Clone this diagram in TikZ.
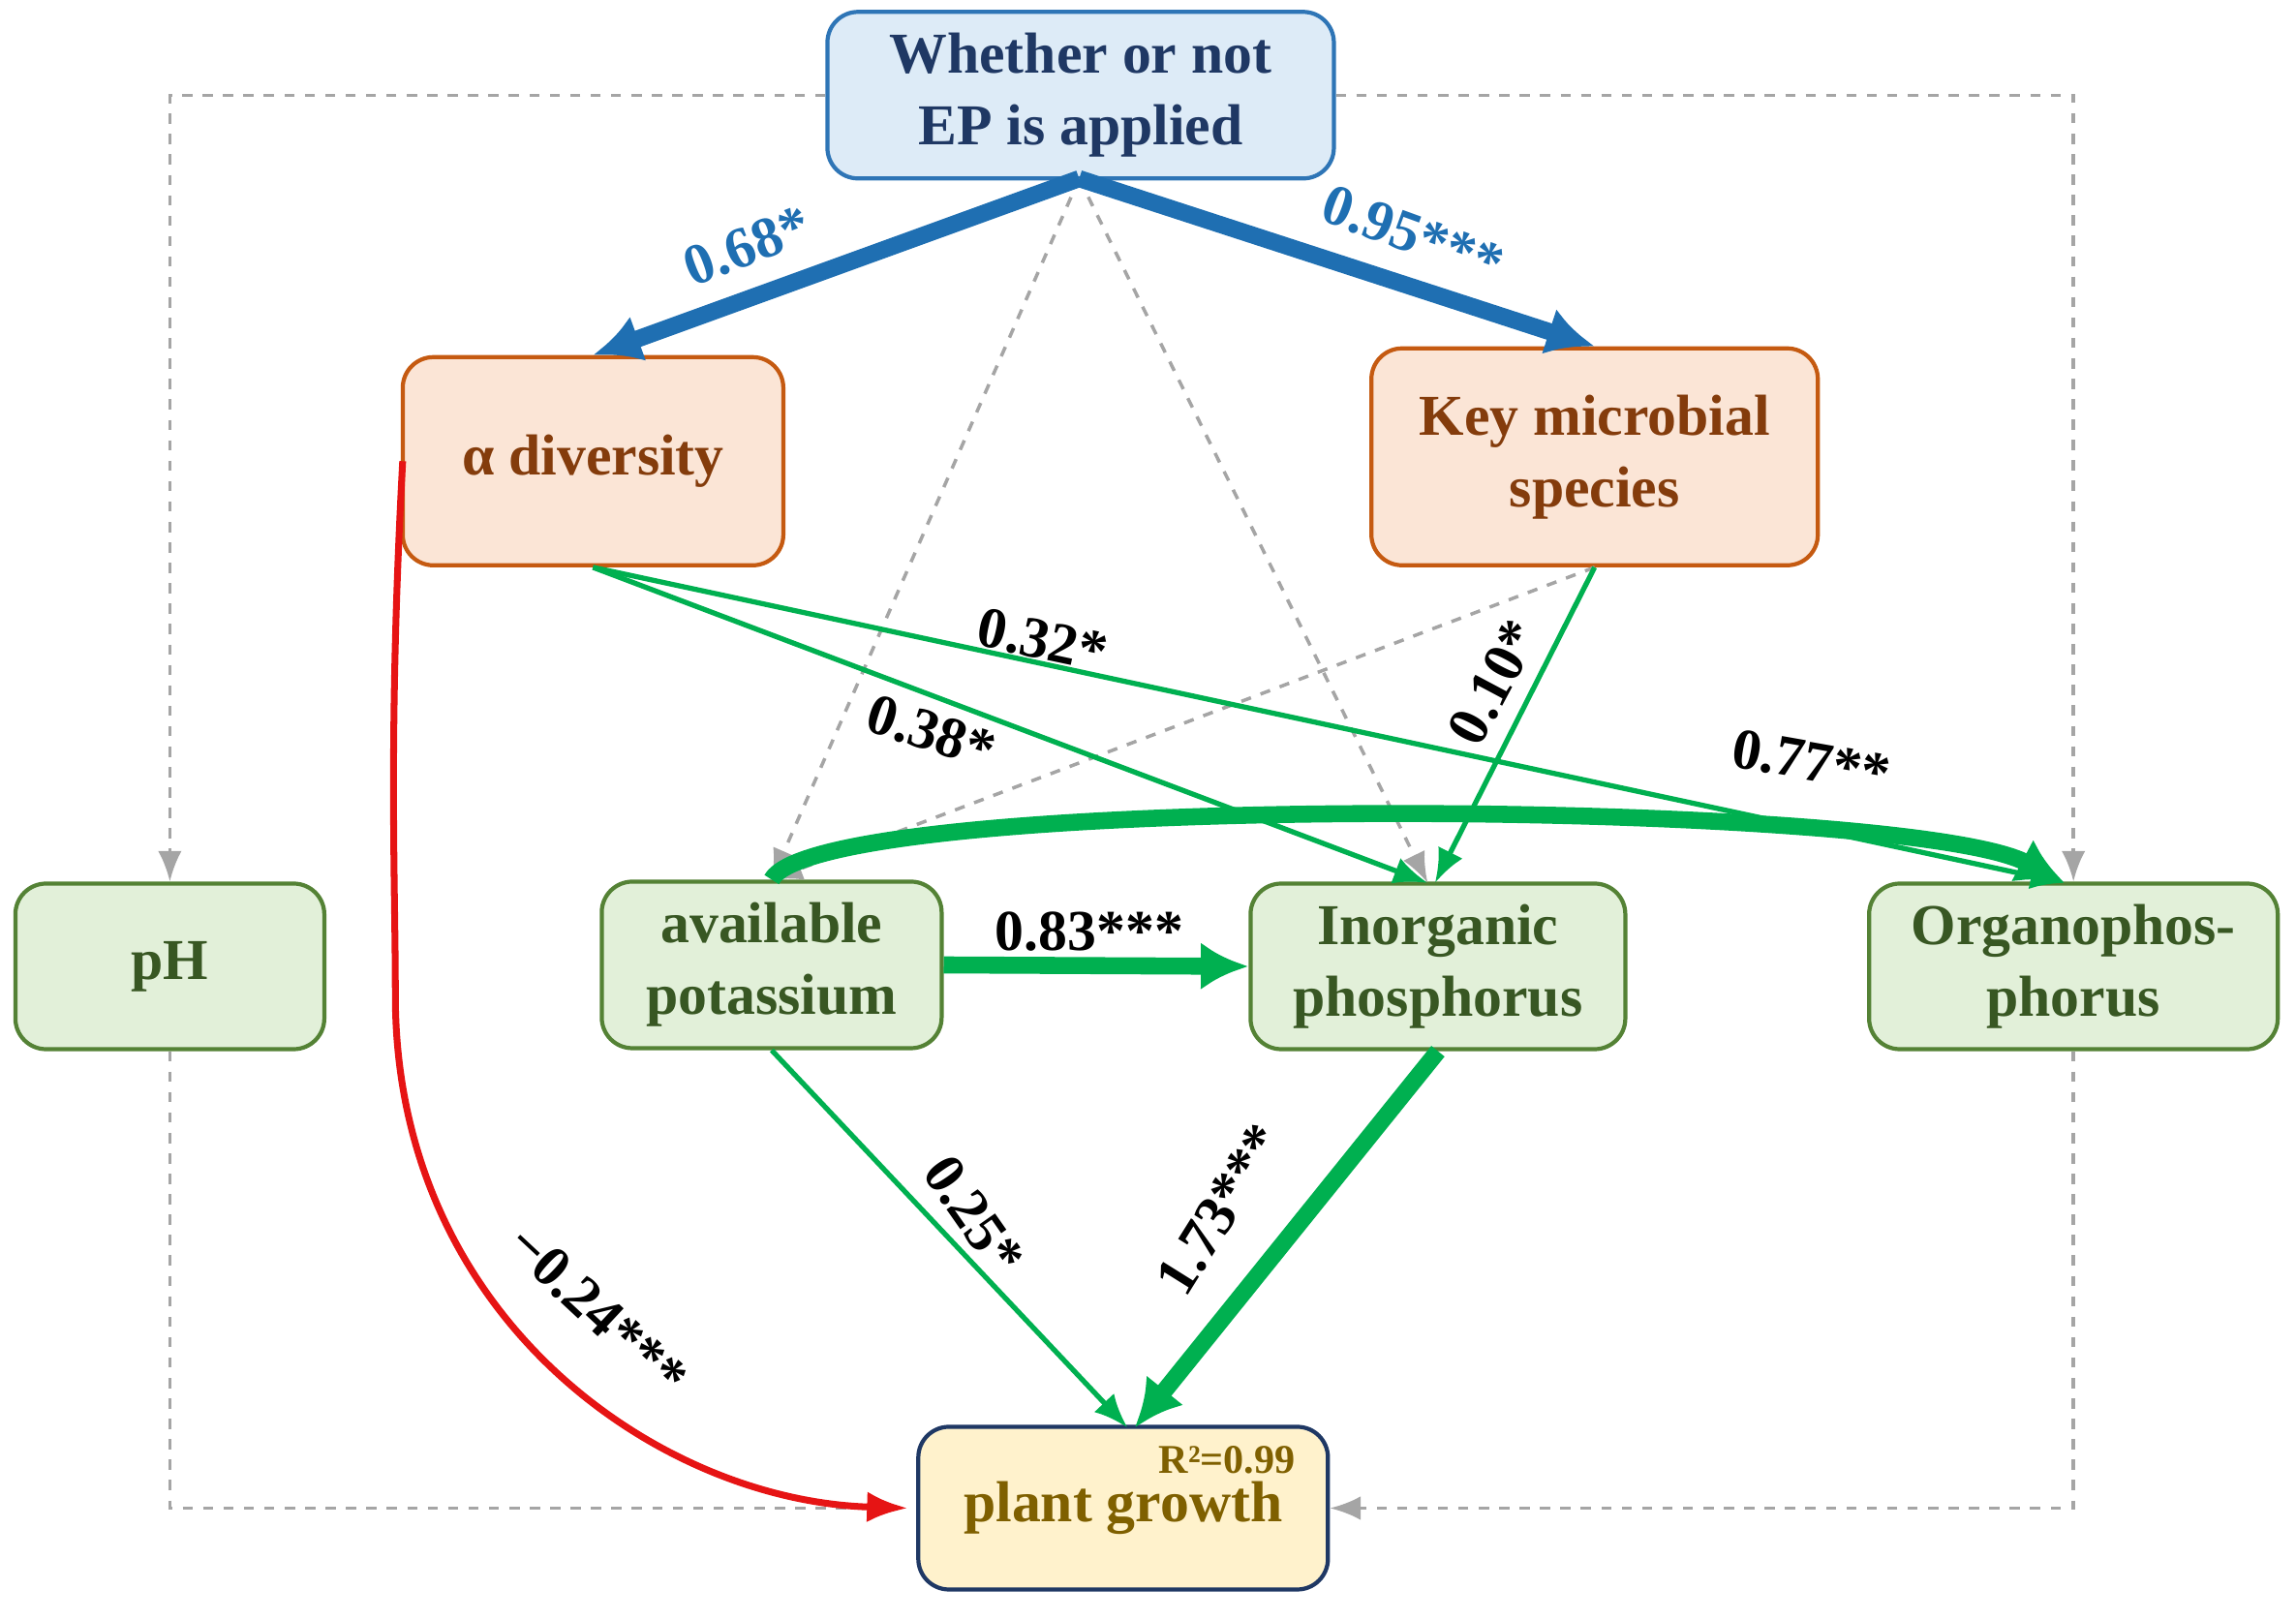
\documentclass[tikz,border=0pt]{standalone}
\usepackage{fontspec}
\setmainfont{Liberation Serif}
\usetikzlibrary{arrows.meta}
\definecolor{bfill}{RGB}{221,235,247}\definecolor{bdraw}{RGB}{46,117,182}\definecolor{btext}{RGB}{31,56,100}
\definecolor{ofill}{RGB}{251,229,214}\definecolor{odraw}{RGB}{197,90,17}\definecolor{otext}{RGB}{132,60,12}
\definecolor{gfill}{RGB}{226,240,217}\definecolor{gdraw}{RGB}{84,130,53}\definecolor{gtext}{RGB}{56,87,35}
\definecolor{yfill}{RGB}{255,242,204}\definecolor{ytext}{RGB}{127,96,0}
\definecolor{eg}{RGB}{0,176,80}\definecolor{eb}{RGB}{31,111,178}\definecolor{er}{RGB}{230,20,20}\definecolor{dg}{RGB}{165,165,165}
\begin{document}
\begin{tikzpicture}[x=0.01512cm,y=-0.01512cm,
 box/.style={rounded corners=9pt,line width=1.2pt,align=center,font=\fontsize{17}{21}\selectfont\bfseries,inner sep=0pt},
 bl/.style={box,fill=bfill,draw=bdraw,text=btext},
 or/.style={box,fill=ofill,draw=odraw,text=otext},
 gr/.style={box,fill=gfill,draw=gdraw,text=gtext},
 dasharr/.style={dg,dashed,line width=1pt,-{Latex[length=9pt,width=7pt]}},
 dashln/.style={dg,dashed,line width=1pt},
 gthin/.style={eg,line width=1.5pt,-{Latex[length=10pt,width=8pt]}},
 gthick/.style={eg,line width=5pt,-{Latex[length=14pt,width=14pt]}},
 lab/.style={font=\fontsize{17}{20}\selectfont\bfseries}]
\useasboundingbox (0,0) rectangle (1568,1106);
\node[bl,minimum width=5.23cm,minimum height=1.72cm] (top) at (738,65) {Whether or not\\EP is applied};
\node[or,minimum width=3.93cm,minimum height=2.15cm] (alpha) at (405,315) {α diversity};
\node[or,minimum width=4.61cm,minimum height=2.24cm] (key) at (1089,312) {Key microbial\\species};
\node[gr,minimum width=3.19cm,minimum height=1.71cm] (ph) at (116,660) {pH};
\node[gr,minimum width=3.51cm,minimum height=1.72cm] (ak) at (527,659) {available\\potassium};
\node[gr,minimum width=3.87cm,minimum height=1.71cm] (ip) at (982,660) {Inorganic\\phosphorus};
\node[gr,minimum width=4.22cm,minimum height=1.71cm] (op) at (1416,660) {Organophos-\\phorus};
\node[box,fill=yfill,draw=btext,text=ytext,minimum width=4.23cm,minimum height=1.68cm] (pg) at (767,1030) {plant growth};
\node[font=\fontsize{12}{14}\selectfont\bfseries,text=ytext] (r2) at (838,997) {R²=0.99};
\coordinate (tb) at (737,122);
\draw[dasharr] (top.west) -- (116,65) -- (ph.north);
\draw[dashln] (ph.south) -- (116,1030) -- (615,1030);
\draw[dasharr] (top.east) -- (1416,65) -- (op.north);
\draw[dasharr] (op.south) -- (1416,1030) -- (pg.east);
\draw[dasharr] (tb) -- (ak.north);
\draw[dasharr] (tb) -- (975,603);
\draw[dasharr] (key.south) -- (ak.north);
\draw[eb,line width=5pt,-{Latex[length=14pt,width=14pt]}] (tb) -- (alpha.north);
\draw[eb,line width=5pt,-{Latex[length=14pt,width=14pt]}] (tb) -- (key.north);
\node[lab,text=eb,rotate=21] (l1) at (510,168) {0.68*};
\node[lab,text=eb,rotate=-20] (l2) at (965,160) {0.95***};
\draw[gthin] (alpha.south) -- (1410,603);
\draw[gthin] (alpha.south) -- (975,603);
\draw[gthin] (key.south) -- (980,603);
\draw[gthick] (ak.north) .. controls (560,540) and (1300,545) .. (1410,603);
\draw[gthick] (ak.east) -- (ip.west);
\draw[gthin] (ak.south) -- (770,975);
\draw[gthick] (ip.south) -- (775,975);
\draw[er,line width=2pt,-{Latex[length=12pt,width=9pt]}] (275,315) .. controls (265,500) and (270,600) .. (270,680) .. controls (270,900) and (450,1025) .. (620,1030);
\node[lab,rotate=-12] at (712,437) {0.32*};
\node[lab,rotate=-18] at (636,500) {0.38*};
\node[lab,rotate=62] at (1020,466) {0.10*};
\node[lab,rotate=-10] at (1237,520) {0.77**};
\node[lab] at (744,636) {0.83***};
\node[lab,rotate=-55] at (665,830) {0.25*};
\node[lab,rotate=58] at (833,826) {1.73***};
\node[lab,rotate=-43] at (408,895) {−0.24***};
\end{tikzpicture}
\end{document}
